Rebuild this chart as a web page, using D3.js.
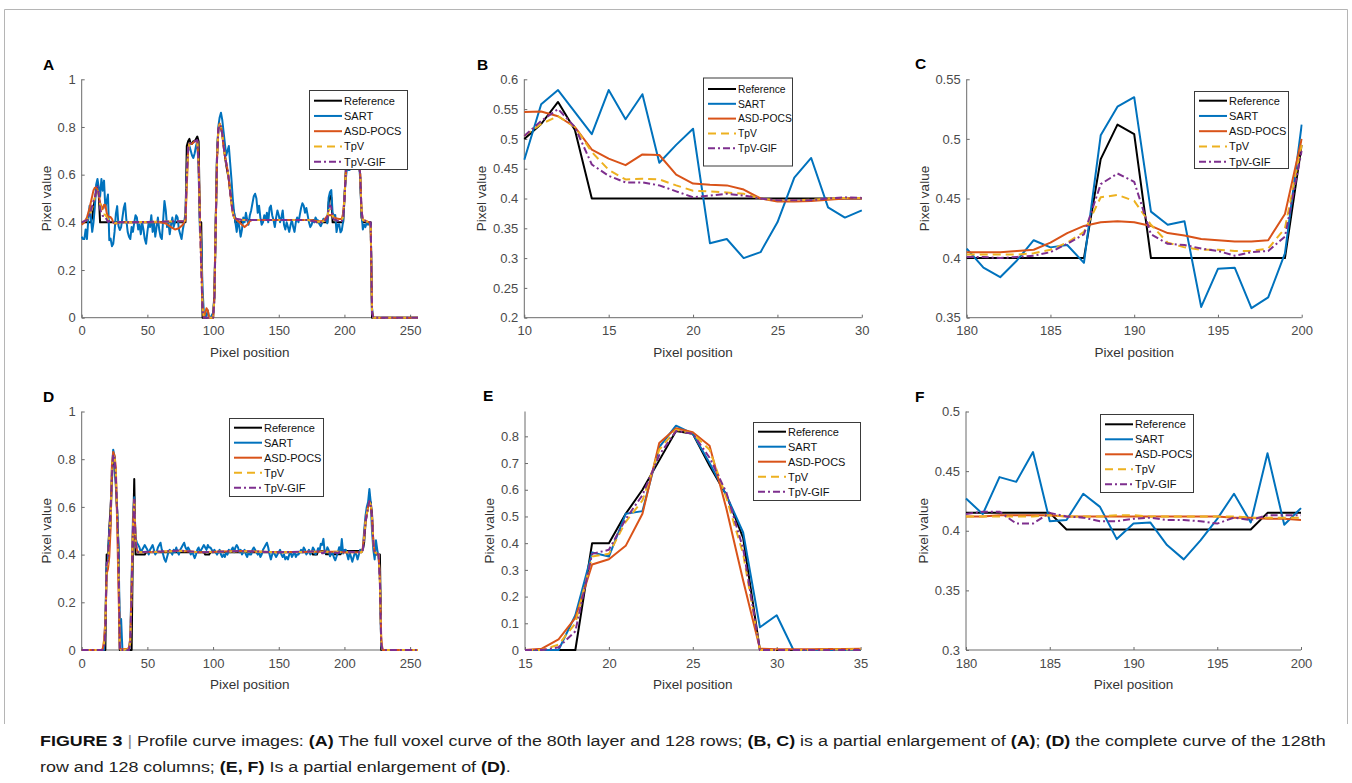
<!DOCTYPE html>
<html lang="en">
<head>
<meta charset="UTF-8">
<title>Profile curve images</title>
<style>
  html, body { margin: 0; background: #fff; }
  svg { display: block; font-family: "Liberation Sans", Arial, sans-serif; }
</style>
</head>
<body>
<svg id="chart" width="1352" height="783"></svg>
<script src="https://cdn.jsdelivr.net/npm/d3@7"></script>
<script>
// ---------- series meta ----------
const seriesNames = ['Reference', 'SART', 'ASD-POCS', 'TpV', 'TpV-GIF']
const seriesColors = ['#000000', '#0072BD', '#D95319', '#EDB120', '#7E2F8E']
const seriesDash = [null, null, null, '8,5', '7,3,2,3']

// ---------- ticks ----------
const aXTicks = [0, 50, 100, 150, 200, 250]
const aYTicks = [0, 0.2, 0.4, 0.6, 0.8, 1]
const bXTicks = [10, 15, 20, 25, 30]
const bYTicks = [0.2, 0.25, 0.3, 0.35, 0.4, 0.45, 0.5, 0.55, 0.6]
const cXTicks = [180, 185, 190, 195, 200]
const cYTicks = [0.35, 0.4, 0.45, 0.5, 0.55]
const dXTicks = [0, 50, 100, 150, 200, 250]
const dYTicks = [0, 0.2, 0.4, 0.6, 0.8, 1]
const eXTicks = [15, 20, 25, 30, 35]
const eYTicks = [0, 0.1, 0.2, 0.3, 0.4, 0.5, 0.6, 0.7, 0.8]
const fXTicks = [180, 185, 190, 195, 200]
const fYTicks = [0.3, 0.35, 0.4, 0.45, 0.5]

// ---------- B: pixels 10..30 ----------
const bX = [10, 11, 12, 13, 14, 15, 16, 17, 18, 19, 20, 21, 22, 23, 24, 25, 26, 27, 28, 29, 30]
const bRef = [0.50, 0.525, 0.562, 0.515, 0.40, 0.40, 0.40, 0.40, 0.40, 0.40, 0.40, 0.40, 0.40, 0.40, 0.40, 0.40, 0.40, 0.40, 0.40, 0.40, 0.40]
const bSart = [0.465, 0.558, 0.582, 0.545, 0.508, 0.582, 0.533, 0.575, 0.46, 0.49, 0.517, 0.325, 0.332, 0.300, 0.310, 0.36, 0.435, 0.468, 0.385, 0.368, 0.38]
const bAsd = [0.545, 0.546, 0.538, 0.52, 0.482, 0.467, 0.456, 0.474, 0.473, 0.44, 0.425, 0.423, 0.422, 0.415, 0.40, 0.395, 0.395, 0.396, 0.398, 0.40, 0.40]
const bTpv = [0.505, 0.525, 0.538, 0.52, 0.478, 0.448, 0.432, 0.433, 0.432, 0.422, 0.413, 0.412, 0.41, 0.408, 0.40, 0.397, 0.397, 0.398, 0.40, 0.401, 0.401]
const bGif = [0.505, 0.53, 0.55, 0.52, 0.457, 0.438, 0.427, 0.427, 0.422, 0.412, 0.402, 0.405, 0.408, 0.405, 0.40, 0.397, 0.397, 0.397, 0.40, 0.402, 0.401]

// ---------- C: pixels 180..200 ----------
const cX = [180, 181, 182, 183, 184, 185, 186, 187, 188, 189, 190, 191, 192, 193, 194, 195, 196, 197, 198, 199, 200]
const cRef = [0.40, 0.40, 0.40, 0.40, 0.40, 0.40, 0.40, 0.40, 0.483, 0.512, 0.504, 0.40, 0.40, 0.40, 0.40, 0.40, 0.40, 0.40, 0.40, 0.40, 0.495]
const cSart = [0.408, 0.392, 0.384, 0.398, 0.415, 0.409, 0.411, 0.396, 0.503, 0.527, 0.535, 0.439, 0.428, 0.431, 0.359, 0.391, 0.392, 0.358, 0.367, 0.404, 0.512]
const cAsd = [0.405, 0.405, 0.405, 0.406, 0.407, 0.413, 0.421, 0.427, 0.430, 0.431, 0.430, 0.427, 0.421, 0.419, 0.416, 0.415, 0.414, 0.414, 0.415, 0.437, 0.50]
const cTpv = [0.403, 0.403, 0.403, 0.403, 0.404, 0.407, 0.413, 0.422, 0.451, 0.453, 0.448, 0.428, 0.413, 0.409, 0.407, 0.407, 0.406, 0.406, 0.408, 0.425, 0.495]
const cGif = [0.401, 0.401, 0.40, 0.401, 0.402, 0.405, 0.412, 0.42, 0.462, 0.471, 0.464, 0.42, 0.412, 0.411, 0.408, 0.406, 0.402, 0.405, 0.406, 0.418, 0.49]

// ---------- A: full row, pixels 0..256 ----------
const aSart0to9 = [0.34, 0.33, 0.33, 0.37, 0.33, 0.41, 0.47, 0.42, 0.36, 0.40]
const aSart31to179 = [
  0.42, 0.46, 0.48, 0.41, 0.36, 0.34, 0.33, 0.38, 0.36, 0.40,
  0.43, 0.42, 0.37, 0.39, 0.35, 0.40, 0.37, 0.33, 0.31, 0.36,
  0.40, 0.38, 0.43, 0.36, 0.40, 0.34, 0.38, 0.42, 0.37, 0.34,
  0.33, 0.41, 0.49, 0.45, 0.38, 0.40, 0.35, 0.39, 0.42, 0.38,
  0.40, 0.43, 0.42, 0.37, 0.35, 0.33, 0.37, 0.40, 0.44, 0.60,
  0.70, 0.72, 0.70, 0.68, 0.67, 0.69, 0.72, 0.74, 0.62, 0.36,
  0.33, 0.12, 0.02, 0.00, 0.01, 0.03, 0.00, 0.00, 0.01, 0.02,
  0.08, 0.38, 0.68, 0.80, 0.84, 0.86, 0.83, 0.78, 0.73, 0.68,
  0.70, 0.72, 0.65, 0.58, 0.50, 0.44, 0.40, 0.36, 0.41, 0.38,
  0.34, 0.37, 0.42, 0.40, 0.44, 0.41, 0.39, 0.43, 0.45, 0.48,
  0.51, 0.52, 0.50, 0.44, 0.47, 0.42, 0.39, 0.40, 0.43, 0.41,
  0.44, 0.40, 0.46, 0.47, 0.43, 0.41, 0.38, 0.42, 0.45, 0.43,
  0.40, 0.42, 0.45, 0.39, 0.37, 0.40, 0.38, 0.36, 0.39, 0.41,
  0.38, 0.36, 0.40, 0.42, 0.40, 0.43, 0.46, 0.48, 0.47, 0.44,
  0.46, 0.43, 0.40, 0.38, 0.39, 0.41, 0.40, 0.42, 0.41
]
const aSart201to256 = [
  0.58, 0.63, 0.62, 0.62, 0.63, 0.64, 0.66, 0.68, 0.69, 0.68,
  0.66, 0.58, 0.44, 0.37, 0.39, 0.38, 0.40, 0.39, 0.40, 0.39,
  0.04, 0, 0, 0, 0, 0, 0, 0, 0, 0,
  0, 0, 0, 0, 0, 0, 0, 0, 0, 0,
  0, 0, 0, 0, 0, 0, 0, 0, 0, 0,
  0, 0, 0, 0, 0, 0
]
const aRefHead = [[0, 0.40], [7, 0.40], [8, 0.42], [9, 0.46]]
const aRefMid = [[79, 0.40], [80, 0.72], [81, 0.74], [82, 0.75], [83, 0.73], [84, 0.73], [85, 0.74], [86, 0.74], [87, 0.75], [88, 0.76], [89, 0.74], [90, 0.40], [91, 0.40], [92, 0], [100, 0], [101, 0.10], [102, 0.40], [103, 0.68], [104, 0.79], [105, 0.81], [106, 0.80], [107, 0.77], [108, 0.73], [109, 0.68], [110, 0.64], [111, 0.61], [112, 0.58], [113, 0.53], [114, 0.49], [115, 0.46], [116, 0.44], [117, 0.40], [123, 0.40], [124, 0.41], [178, 0.41], [179, 0.40]]
const aRefTail = [[201, 0.62], [202, 0.66], [211, 0.66], [212, 0.60], [213, 0.42], [214, 0.40], [220, 0.40], [221, 0], [256, 0]]
const aAsdHead = [[0, 0.39], [2, 0.40], [4, 0.42], [6, 0.46], [8, 0.51], [9, 0.535]]
const aAsdMid = [[35, 0.40], [60, 0.40], [64, 0.395], [68, 0.38], [71, 0.37], [74, 0.375], [77, 0.39], [79, 0.41], [80, 0.55], [81, 0.70], [82, 0.73], [84, 0.73], [86, 0.74], [88, 0.74], [89, 0.65], [90, 0.42], [91, 0.25], [92, 0.05], [93, 0], [94, 0.02], [95, 0.04], [96, 0.03], [97, 0], [100, 0], [101, 0.08], [102, 0.38], [103, 0.66], [104, 0.79], [105, 0.815], [106, 0.80], [107, 0.77], [108, 0.72], [109, 0.68], [110, 0.65], [111, 0.62], [112, 0.58], [113, 0.53], [114, 0.48], [115, 0.44], [116, 0.42], [118, 0.41], [120, 0.40], [122, 0.39], [124, 0.38], [126, 0.39], [128, 0.405], [130, 0.41], [175, 0.41], [179, 0.405]]
const aAsdTail = [[201, 0.60], [202, 0.66], [211, 0.66], [212, 0.60], [213, 0.45], [214, 0.41], [219, 0.40], [220, 0.38], [221, 0.03], [222, 0], [256, 0]]
const aTpvHead = [[0, 0.40], [4, 0.41], [6, 0.43], [8, 0.46], [9, 0.48]]
const aTpvMid = [[35, 0.40], [78, 0.405], [79, 0.42], [80, 0.58], [81, 0.70], [82, 0.73], [88, 0.74], [89, 0.64], [90, 0.40], [91, 0.22], [92, 0.04], [93, 0], [100, 0], [101, 0.08], [102, 0.38], [103, 0.66], [104, 0.79], [105, 0.81], [106, 0.80], [107, 0.77], [108, 0.72], [109, 0.68], [110, 0.65], [111, 0.62], [112, 0.58], [113, 0.53], [114, 0.48], [115, 0.44], [116, 0.42], [118, 0.415], [122, 0.41], [172, 0.41], [179, 0.403]]
const aTpvTail = [[201, 0.60], [202, 0.66], [211, 0.66], [212, 0.60], [213, 0.45], [214, 0.41], [219, 0.40], [220, 0.38], [221, 0.02], [222, 0], [256, 0]]
const aGifHead = [[0, 0.40], [4, 0.41], [6, 0.43], [8, 0.47], [9, 0.49]]
const aGifMid = [[35, 0.40], [78, 0.405], [79, 0.42], [80, 0.60], [81, 0.71], [82, 0.73], [88, 0.745], [89, 0.64], [90, 0.40], [91, 0.20], [92, 0.03], [93, 0], [100, 0], [101, 0.07], [102, 0.37], [103, 0.66], [104, 0.79], [105, 0.81], [106, 0.80], [107, 0.77], [108, 0.72], [109, 0.68], [110, 0.65], [111, 0.62], [112, 0.58], [113, 0.53], [114, 0.48], [115, 0.44], [116, 0.42], [118, 0.415], [122, 0.41], [172, 0.41], [179, 0.401]]
const aGifTail = [[201, 0.60], [202, 0.66], [211, 0.66], [212, 0.60], [213, 0.45], [214, 0.41], [220, 0.40], [221, 0.02], [222, 0], [256, 0]]

// ---------- E: pixels 15..35 ----------
const eX = [15, 16, 17, 18, 19, 20, 21, 22, 23, 24, 25, 26, 27, 28, 29, 30, 31, 32, 33, 34, 35]
const eRef = [0, 0, 0, 0, 0.40, 0.40, 0.51, 0.60, 0.71, 0.82, 0.81, 0.69, 0.58, 0.42, 0, 0, 0, 0, 0, 0, 0]
const eSart = [0, 0, 0, 0.13, 0.365, 0.35, 0.51, 0.52, 0.76, 0.84, 0.81, 0.70, 0.58, 0.44, 0.085, 0.13, 0, 0, 0, 0, 0]
const eAsd = [0, 0.005, 0.04, 0.12, 0.32, 0.34, 0.39, 0.51, 0.775, 0.83, 0.815, 0.765, 0.53, 0.26, 0.005, 0.003, 0.003, 0.003, 0.004, 0.004, 0.005]
const eTpv = [0, 0, 0.02, 0.10, 0.35, 0.36, 0.48, 0.56, 0.75, 0.825, 0.81, 0.75, 0.57, 0.36, 0, 0, 0, 0, 0.002, 0.002, 0.003]
const eGif = [0, 0, 0.01, 0.07, 0.36, 0.375, 0.49, 0.58, 0.73, 0.82, 0.81, 0.72, 0.59, 0.38, 0, 0, 0, 0, 0, 0, 0]

// ---------- F: pixels 180..200 ----------
const fX = [180, 181, 182, 183, 184, 185, 186, 187, 188, 189, 190, 191, 192, 193, 194, 195, 196, 197, 198, 199, 200]
const fRef = [0.415, 0.415, 0.415, 0.415, 0.415, 0.415, 0.401, 0.401, 0.401, 0.401, 0.401, 0.401, 0.401, 0.401, 0.401, 0.401, 0.401, 0.401, 0.415, 0.415, 0.415]
const fSart = [0.427, 0.414, 0.445, 0.441, 0.466, 0.408, 0.409, 0.431, 0.420, 0.393, 0.406, 0.407, 0.388, 0.376, 0.392, 0.41, 0.431, 0.407, 0.465, 0.405, 0.419]
const fAsd = [0.412, 0.412, 0.413, 0.413, 0.413, 0.413, 0.412, 0.412, 0.412, 0.412, 0.412, 0.412, 0.412, 0.412, 0.412, 0.412, 0.411, 0.411, 0.410, 0.410, 0.409]
const fTpv = [0.412, 0.412, 0.412, 0.412, 0.412, 0.413, 0.412, 0.412, 0.412, 0.413, 0.413, 0.412, 0.412, 0.412, 0.412, 0.412, 0.412, 0.411, 0.411, 0.411, 0.411]
const fGif = [0.414, 0.416, 0.416, 0.406, 0.406, 0.415, 0.412, 0.411, 0.408, 0.408, 0.410, 0.411, 0.409, 0.409, 0.408, 0.406, 0.411, 0.409, 0.413, 0.413, 0.413]

// ---------- D: full column, pixels 0..256 ----------
const dSart0to14 = [0, 0, 0, 0, 0, 0, 0, 0, 0, 0, 0, 0, 0, 0, 0]
const dSart36to179 = [
  0.00, 0.05, 0.30, 0.55, 0.64, 0.47, 0.45,
  0.44, 0.43, 0.41, 0.42, 0.43, 0.44, 0.43, 0.42, 0.40, 0.42,
  0.43, 0.44, 0.42, 0.40, 0.41, 0.43, 0.44, 0.45, 0.42, 0.40,
  0.38, 0.37, 0.39, 0.41, 0.42, 0.41, 0.40, 0.42, 0.41, 0.43,
  0.41, 0.40, 0.42, 0.43, 0.44, 0.45, 0.43, 0.42, 0.43, 0.42,
  0.40, 0.41, 0.40, 0.385, 0.40, 0.42, 0.43, 0.41, 0.42, 0.43,
  0.44, 0.43, 0.42, 0.44, 0.43, 0.43, 0.42, 0.41, 0.42, 0.41,
  0.40, 0.41, 0.42, 0.40, 0.39, 0.40, 0.39, 0.41, 0.40, 0.42,
  0.41, 0.42, 0.43, 0.41, 0.43, 0.44, 0.43, 0.41, 0.42, 0.40,
  0.41, 0.42, 0.40, 0.39, 0.41, 0.40, 0.40, 0.42, 0.43, 0.42,
  0.41, 0.40, 0.41, 0.39, 0.40, 0.42, 0.43, 0.44, 0.45, 0.43,
  0.40, 0.38, 0.40, 0.41, 0.40, 0.39, 0.40, 0.41, 0.42, 0.40,
  0.39, 0.40, 0.38, 0.39, 0.38, 0.40, 0.41, 0.39, 0.40, 0.41,
  0.39, 0.40, 0.40, 0.41, 0.42, 0.41, 0.43, 0.42, 0.40, 0.41,
  0.42, 0.40, 0.41, 0.43, 0.42, 0.40, 0.41
]
const dSart201to256 = [
  0.42, 0.40, 0.38, 0.41, 0.39, 0.37, 0.39, 0.41, 0.40, 0.38,
  0.40, 0.42, 0.41, 0.42, 0.50, 0.56, 0.60, 0.62, 0.675, 0.62,
  0.50, 0.42, 0.38, 0.46, 0.42, 0.39, 0.30, 0.02, 0, 0,
  0, 0, 0, 0, 0, 0, 0, 0, 0, 0,
  0, 0, 0, 0, 0, 0, 0, 0, 0, 0,
  0, 0, 0, 0, 0, 0
]
const dRefHead = [[0, 0], [14, 0]]
const dRefMid = [[38, 0], [39, 0.45], [40, 0.717], [41, 0.40], [48, 0.40], [49, 0.41], [93, 0.41], [94, 0.40], [97, 0.40], [98, 0.41], [175, 0.41], [176, 0.40], [179, 0.40]]
const dRefTail = [[213, 0.415], [214, 0.42], [215, 0.45], [216, 0.53], [217, 0.57], [218, 0.60], [219, 0.62], [220, 0.62], [221, 0.57], [222, 0.45], [223, 0.41], [224, 0.40], [227, 0.40], [228, 0], [256, 0]]
const dAsdHead = [[0, 0], [14, 0]]
const dAsdMid = [[36, 0.01], [37, 0.05], [38, 0.27], [39, 0.52], [40, 0.63], [41, 0.46], [42, 0.42], [43, 0.41], [60, 0.412], [75, 0.416], [90, 0.41], [120, 0.415], [150, 0.41], [179, 0.412]]
const dAsdTail = [[212, 0.41], [213, 0.41], [214, 0.43], [215, 0.48], [216, 0.54], [217, 0.57], [218, 0.60], [219, 0.62], [220, 0.61], [221, 0.55], [222, 0.45], [223, 0.41], [226, 0.40], [227, 0.30], [228, 0.05], [229, 0], [256, 0]]
const dTpvHead = [[0, 0], [14, 0]]
const dTpvMid = [[36, 0], [37, 0.03], [38, 0.25], [39, 0.50], [40, 0.62], [41, 0.45], [42, 0.42], [43, 0.41], [60, 0.412], [75, 0.415], [90, 0.41], [120, 0.414], [150, 0.41], [179, 0.412]]
const dTpvTail = [[213, 0.41], [214, 0.42], [215, 0.47], [216, 0.53], [217, 0.57], [218, 0.60], [219, 0.62], [220, 0.61], [221, 0.56], [222, 0.45], [223, 0.41], [226, 0.40], [227, 0.28], [228, 0.03], [229, 0], [256, 0]]
const dGifHead = [[0, 0], [14, 0]]
const dGifMid = [[36, 0], [37, 0.03], [38, 0.25], [39, 0.50], [40, 0.63], [41, 0.45], [42, 0.42], [43, 0.41], [60, 0.413], [75, 0.417], [90, 0.41], [120, 0.415], [150, 0.41], [179, 0.413]]
const dGifTail = [[213, 0.41], [214, 0.42], [215, 0.47], [216, 0.53], [217, 0.57], [218, 0.60], [219, 0.625], [220, 0.61], [221, 0.56], [222, 0.45], [223, 0.41], [226, 0.40], [227, 0.28], [228, 0.03], [229, 0], [256, 0]]

// ---------- caption ----------
const captionLine1 = [
  ['FIGURE 3', 'b'], [' | ', 'g'], ['Profile curve images: ', ''], ['(A)', 'b'],
  [' The full voxel curve of the 80th layer and 128 rows; ', ''], ['(B, C)', 'b'],
  [' is a partial enlargement of ', ''], ['(A)', 'b'], ['; ', ''], ['(D)', 'b'],
  [' the complete curve of the 128th', '']
]
const captionLine2 = [
  ['row and 128 columns; ', ''], ['(E, F)', 'b'], [' Is a partial enlargement of ', ''], ['(D)', 'b'], ['.', '']
]

// ---------- helpers ----------
const pairs = (xs, ys) => xs.map((x, i) => [x, ys[i]])
const indexed = ys => ys.map((y, i) => [i, y])

const aSeries = [
  [...aRefHead, ...pairs(bX, bRef), ...aRefMid, ...pairs(cX, cRef), ...aRefTail],
  indexed([...aSart0to9, ...bSart, ...aSart31to179, ...cSart, ...aSart201to256]),
  [...aAsdHead, ...pairs(bX, bAsd), ...aAsdMid, ...pairs(cX, cAsd), ...aAsdTail],
  [...aTpvHead, ...pairs(bX, bTpv), ...aTpvMid, ...pairs(cX, cTpv), ...aTpvTail],
  [...aGifHead, ...pairs(bX, bGif), ...aGifMid, ...pairs(cX, cGif), ...aGifTail]
]
const dSeries = [
  [...dRefHead, ...pairs(eX, eRef), ...dRefMid, ...pairs(fX, fRef), ...dRefTail],
  indexed([...dSart0to14, ...eSart, ...dSart36to179, ...fSart, ...dSart201to256]),
  [...dAsdHead, ...pairs(eX, eAsd), ...dAsdMid, ...pairs(fX, fAsd), ...dAsdTail],
  [...dTpvHead, ...pairs(eX, eTpv), ...dTpvMid, ...pairs(fX, fTpv), ...dTpvTail],
  [...dGifHead, ...pairs(eX, eGif), ...dGifMid, ...pairs(fX, fGif), ...dGifTail]
]

const panels = [
  { id: 'A', left: 81.7, top: 79.3, w: 336.3, h: 238.4, xd: [0, 256], yd: [0, 1], xt: aXTicks, yt: aYTicks,
    series: aSeries, letter: [43, 70], lg: { x: 309, y: 90, w: 98, h: 79, r0: 10.7, dr: 15.25, fs: 11 } },
  { id: 'B', left: 524.3, top: 79.3, w: 337.5, h: 238.4, xd: [10, 30], yd: [0.2, 0.6], xt: bXTicks, yt: bYTicks,
    series: [bRef, bSart, bAsd, bTpv, bGif].map(s => pairs(bX, s)), letter: [477, 69.5], lg: { x: 703, y: 77.5, w: 89, h: 88, r0: 11.5, dr: 14.8, fs: 10.3 } },
  { id: 'C', left: 966.7, top: 79.3, w: 335, h: 238.4, xd: [180, 200], yd: [0.35, 0.55], xt: cXTicks, yt: cYTicks,
    series: [cRef, cSart, cAsd, cTpv, cGif].map(s => pairs(cX, s)), letter: [915, 69], lg: { x: 1194, y: 91, w: 94, h: 77, r0: 9.7, dr: 15.25, fs: 11 } },
  { id: 'D', left: 81.7, top: 411.5, w: 336.3, h: 238.5, xd: [0, 256], yd: [0, 1], xt: dXTicks, yt: dYTicks,
    series: dSeries, letter: [43, 402], lg: { x: 229, y: 418, w: 94, h: 78, r0: 9.7, dr: 15, fs: 11 } },
  { id: 'E', left: 525, top: 411.5, w: 335.6, h: 238.5, xd: [15, 35], yd: [0, 0.893], xt: eXTicks, yt: eYTicks,
    series: [eRef, eSart, eAsd, eTpv, eGif].map(s => pairs(eX, s)), letter: [483, 401], lg: { x: 753, y: 422, w: 107, h: 78, r0: 9.7, dr: 15, fs: 11 } },
  { id: 'F', left: 966, top: 411.5, w: 335, h: 238.5, xd: [180, 200], yd: [0.3, 0.5], xt: fXTicks, yt: fYTicks,
    series: [fRef, fSart, fAsd, fTpv, fGif].map(s => pairs(fX, s)), letter: [915, 402], lg: { x: 1100, y: 414, w: 93, h: 78, r0: 10.3, dr: 15, fs: 11 } }
]

const svg = d3.select('#chart')

// outer frame of the figure
svg.append('path')
  .attr('d', 'M4.5,724V9.5H1347.5V724')
  .attr('fill', 'none')
  .attr('stroke', '#b5b5b5')
  .attr('stroke-width', 1)

const fmt = v => String(+v.toFixed(2))

panels.forEach(p => {
  const x = d3.scaleLinear().domain(p.xd).range([p.left, p.left + p.w])
  const y = d3.scaleLinear().domain(p.yd).range([p.top + p.h, p.top])
  const g = svg.append('g')

  // clip
  const clipId = 'clip' + p.id
  svg.append('clipPath').attr('id', clipId)
    .append('rect')
    .attr('x', p.left - 1).attr('y', p.top - 2)
    .attr('width', p.w + 2).attr('height', p.h + 4)

  // axes (MATLAB style: ticks inside)
  const xAxis = d3.axisBottom(x).tickValues(p.xt).tickSize(-3).tickPadding(6).tickFormat(fmt)
  const yAxis = d3.axisLeft(y).tickValues(p.yt).tickSize(-3).tickPadding(6).tickFormat(fmt)

  const gx = g.append('g').attr('transform', `translate(0,${p.top + p.h})`).call(xAxis)
  const gy = g.append('g').attr('transform', `translate(${p.left},0)`).call(yAxis)
  ;[gx, gy].forEach(ax => {
    ax.select('.domain').attr('stroke', '#6b6b6b').attr('stroke-width', 1)
    ax.selectAll('.tick line').attr('stroke', '#6b6b6b')
    ax.selectAll('.tick text').attr('fill', '#4a4a4a').style('font-size', '13px')
      .style('font-family', '"Liberation Sans", Arial, sans-serif')
  })
  gx.select('.domain').attr('d', `M${p.left},0H${p.left + p.w}`)
  gy.select('.domain').attr('d', `M0,${p.top + p.h}V${p.top}`)
  gx.selectAll('.tick text').attr('y', 8.5).attr('dy', '0.71em')

  // series
  const line = d3.line().x(d => x(d[0])).y(d => y(d[1]))
  const lines = g.append('g').attr('clip-path', `url(#${clipId})`)
  p.series.forEach((s, i) => {
    lines.append('path')
      .datum(s)
      .attr('d', line)
      .attr('fill', 'none')
      .attr('stroke', seriesColors[i])
      .attr('stroke-width', 2)
      .attr('stroke-linejoin', 'round')
      .attr('stroke-dasharray', seriesDash[i])
  })

  // axis labels
  g.append('text')
    .attr('x', p.left + p.w / 2).attr('y', p.top + p.h + 39)
    .attr('text-anchor', 'middle')
    .attr('fill', '#333').style('font-size', '13.5px')
    .text('Pixel position')
  const tb = gy.node().getBBox()
  g.append('text')
    .attr('transform', `translate(${p.left + tb.x - 6.5},${p.top + p.h / 2}) rotate(-90)`)
    .attr('text-anchor', 'middle')
    .attr('fill', '#333').style('font-size', '13.5px')
    .text('Pixel value')

  // panel letter
  g.append('text')
    .attr('x', p.letter[0]).attr('y', p.letter[1])
    .attr('font-weight', 'bold').style('font-size', '15.5px')
    .attr('fill', '#000')
    .text(p.id)

  // legend
  const lg = p.lg
  const leg = g.append('g')
  leg.append('rect')
    .attr('x', lg.x + 0.5).attr('y', lg.y + 0.5)
    .attr('width', lg.w).attr('height', lg.h)
    .attr('fill', '#fff').attr('stroke', '#3a3a3a').attr('stroke-width', 1)
  seriesNames.forEach((name, i) => {
    const cy = lg.y + lg.r0 + i * lg.dr
    leg.append('line')
      .attr('x1', lg.x + 5).attr('x2', lg.x + 33)
      .attr('y1', cy).attr('y2', cy)
      .attr('stroke', seriesColors[i]).attr('stroke-width', 2)
      .attr('stroke-dasharray', seriesDash[i])
    leg.append('text')
      .attr('x', lg.x + 35).attr('y', cy + lg.fs * 0.36)
      .attr('fill', '#111').style('font-size', lg.fs + 'px')
      .text(name)
  })
})

// caption
function captionText (parts, yPos) {
  const t = svg.append('text')
    .attr('y', yPos)
    .style('font-family', '"Liberation Sans Narrow", "Liberation Sans", Arial, sans-serif')
    .style('font-size', '15.5px')
    .attr('fill', '#222')
  parts.forEach(([s, k]) => {
    t.append('tspan')
      .attr('font-weight', k === 'b' ? 'bold' : null)
      .attr('fill', k === 'g' ? '#888' : (k === 'b' ? '#111' : '#222'))
      .text(s)
  })
  return t
}
const cap1 = captionText(captionLine1, 0)
const cap2 = captionText(captionLine2, 0)
const scale = 1287 / cap1.node().getComputedTextLength()
cap1.attr('transform', `translate(40,746) scale(${scale},1)`)
cap2.attr('transform', `translate(40,772) scale(${scale},1)`)
</script>
</body>
</html>
